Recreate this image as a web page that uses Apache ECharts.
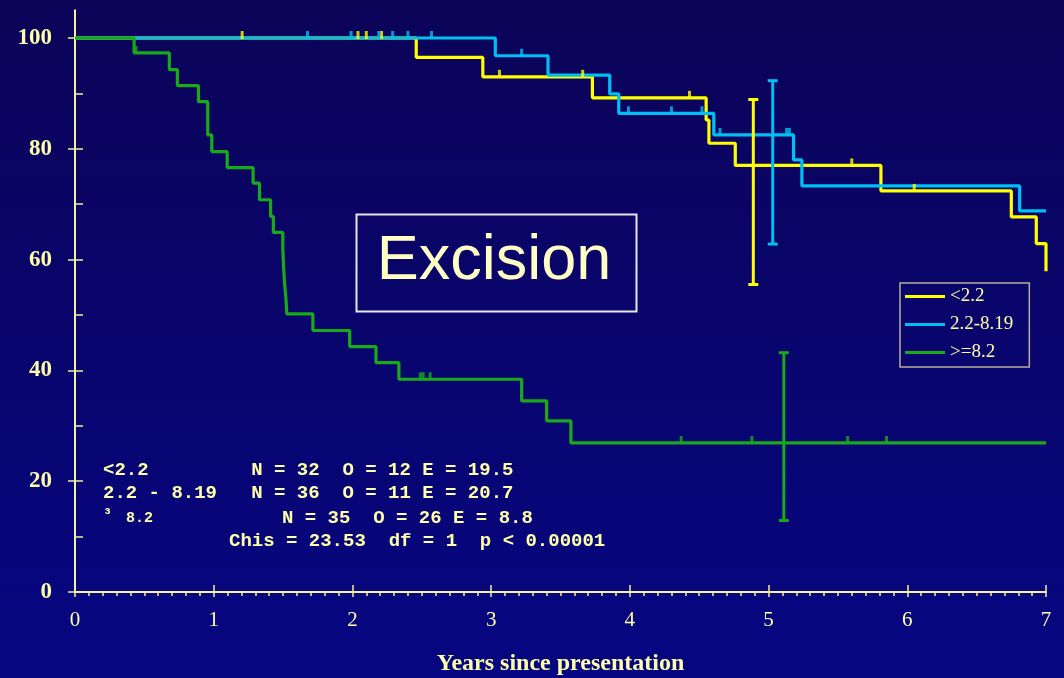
<!DOCTYPE html>
<html>
<head>
<meta charset="utf-8">
<style>html,body{margin:0;padding:0;background:#0a0560;}#chart{width:1064px;height:678px;}</style>
<script src="https://cdn.jsdelivr.net/npm/echarts@6/dist/echarts.min.js"></script>
</head>
<body>
<div id="chart"></div>
<script>
// ---- data ----
const seriesNames = ['<2.2', '2.2-8.19', '>=8.2'];
const yellowT = [0, 2.46, 2.94, 3.73, 4.55, 4.57, 4.76, 5.81, 6.75, 6.93, 7.0];
const yellowS = [100, 96.5, 93.0, 89.2, 85.2, 81.0, 77.0, 72.4, 67.7, 62.9, 57.9];
const blueT = [0, 3.03, 3.41, 3.855, 3.92, 4.605, 5.18, 5.24, 6.81, 7.0];
const blueS = [100, 96.8, 93.3, 89.9, 86.4, 82.5, 78.0, 73.3, 68.8, 68.8];
const greenT = [0, 0.426, 0.68, 0.738, 0.89, 0.957, 0.986, 1.097, 1.284, 1.33, 1.41, 1.43, 1.498, 1.503, 1.51, 1.52, 1.527, 1.715, 1.98, 2.17, 2.335, 3.22, 3.40, 3.575, 7.0];
const greenS = [100, 97.3, 94.3, 91.4, 88.5, 82.5, 79.5, 76.6, 73.8, 70.8, 67.8, 64.9, 62.0, 59.0, 56.0, 53.2, 50.2, 47.2, 44.3, 41.4, 38.4, 34.5, 30.9, 26.9, 26.9];

const yellowCensorT = [1.205, 2.04, 2.10, 2.21, 3.06, 3.66, 4.43, 5.60, 6.05];
const yellowCensorS = [100, 100, 100, 100, 93.0, 93.0, 89.2, 77.0, 72.4];
const blueCensorT = [1.676, 1.99, 2.19, 2.29, 2.40, 2.57, 3.22, 3.99, 4.30, 4.52, 4.65, 5.13, 5.15];
const blueCensorS = [100, 100, 100, 100, 100, 100, 96.8, 86.4, 86.4, 86.4, 82.5, 82.5, 82.5];
const greenCensorT = [0.44, 2.49, 2.51, 2.56, 4.37, 4.88, 5.57, 5.85];
const greenCensorS = [97.3, 38.4, 38.4, 38.4, 26.9, 26.9, 26.9, 26.9];

// [time, low, high]
const yellowErr = [4.89, 55.5, 88.9];
const blueErr = [5.03, 62.8, 92.3];
const greenErr = [5.11, 12.9, 43.2];

const yMajorTicks = [0, 20, 40, 60, 80, 100];
const yAllTicks = [10, 20, 30, 40, 50, 60, 70, 80, 90, 100];

const statLines = [
  '<2.2         N = 32  O = 12 E = 19.5',
  '2.2 - 8.19   N = 36  O = 11 E = 20.7',
  'N = 35  O = 26 E = 8.8',
  'Chis = 23.53  df = 1  p < 0.00001'
];

// ---- styling ----
const COLORS = ['#ffff00', '#00bff2', '#19a919'];
const AXIS = '#f4f0a0';
const TXT = '#ffffa8';

function zip(a, b) { return a.map((v, i) => [v, b[i]]); }

function lineSeries(name, t, s, color) {
  return {
    name: name, type: 'line', step: 'end', data: zip(t, s),
    showSymbol: false, symbol: 'none', color: color,
    lineStyle: { color: color, width: 3.2 }, z: 3
  };
}
function censorSeries(t, s, color) {
  return {
    type: 'scatter', data: zip(t, s), symbol: 'rect', symbolSize: [3, 8],
    symbolOffset: [0, -3], itemStyle: { color: color }, z: 4, silent: true
  };
}
function errSeries(e, color) {
  return {
    type: 'custom', data: [e], z: 5, silent: true,
    renderItem: function (params, api) {
      const top = api.coord([api.value(0), api.value(2)]);
      const bot = api.coord([api.value(0), api.value(1)]);
      const st = { stroke: color, lineWidth: 3 };
      return {
        type: 'group', children: [
          { type: 'line', shape: { x1: top[0], y1: top[1], x2: bot[0], y2: bot[1] }, style: st },
          { type: 'line', shape: { x1: top[0] - 5, y1: top[1], x2: top[0] + 5, y2: top[1] }, style: st },
          { type: 'line', shape: { x1: bot[0] - 5, y1: bot[1], x2: bot[0] + 5, y2: bot[1] }, style: st }
        ]
      };
    }
  };
}

const chart = echarts.init(document.getElementById('chart'));
const monoFont = '"Liberation Mono", "DejaVu Sans Mono", monospace';

chart.setOption({
  animation: false,
  backgroundColor: {
    type: 'linear', x: 0, y: 0, x2: 0, y2: 1,
    colorStops: [{ offset: 0, color: '#0b0458' }, { offset: 1, color: '#060682' }]
  },
  grid: { left: 75, right: 18, top: 10.3, bottom: 86, containLabel: false, outerBoundsMode: 'none' },
  legend: {
    data: seriesNames, orient: 'vertical', left: 900, top: 283,
    icon: 'rect', itemWidth: 40, itemHeight: 3, itemGap: 9,
    padding: [4, 16, 5, 5], borderColor: '#b8b098', borderWidth: 1.5,
    textStyle: { color: TXT, fontFamily: '"Liberation Serif", serif', fontSize: 19 }
  },
  xAxis: [
    {
      type: 'value', min: 0, max: 7, interval: 1, position: 'bottom',
      axisLine: { show: true, onZero: false, lineStyle: { color: AXIS, width: 2 } },
      axisTick: { show: true, inside: false, length: 5, lineStyle: { color: AXIS, width: 1.5 } },
      minorTick: { show: true, splitNumber: 10, length: 4, lineStyle: { color: AXIS, width: 1.5 } },
      splitLine: { show: false },
      axisLabel: { color: TXT, fontFamily: '"Liberation Serif", serif', fontSize: 21, margin: 18 },
      name: 'Years since presentation', nameLocation: 'middle', nameGap: 60,
      nameTextStyle: { color: TXT, fontFamily: '"Liberation Serif", serif', fontSize: 24, fontWeight: 'bold' }
    },
    {
      type: 'value', min: 0, max: 7, interval: 1, position: 'bottom',
      axisLine: { show: false },
      axisTick: { show: true, inside: true, length: 7, lineStyle: { color: AXIS, width: 1.5 } },
      minorTick: { show: false }, splitLine: { show: false },
      axisLabel: { show: false }
    }
  ],
  yAxis: [
    {
      type: 'value', min: 0, max: 105, interval: 20, position: 'left',
      axisLine: { show: true, onZero: false, lineStyle: { color: AXIS, width: 2 } },
      axisTick: { show: true, inside: false, length: 7, customValues: yMajorTicks, lineStyle: { color: AXIS, width: 1.5 } },
      splitLine: { show: false },
      axisLabel: {
        customValues: yMajorTicks, color: TXT, margin: 23,
        fontFamily: '"Liberation Serif", serif', fontSize: 23, fontWeight: 'bold'
      }
    },
    {
      type: 'value', min: 0, max: 105, interval: 20, position: 'left',
      axisLine: { show: false },
      axisTick: { show: true, inside: true, length: 8, customValues: yAllTicks, lineStyle: { color: AXIS, width: 1.5 } },
      splitLine: { show: false }, axisLabel: { show: false }
    }
  ],
  series: [
    lineSeries(seriesNames[0], yellowT, yellowS, COLORS[0]),
    lineSeries(seriesNames[1], blueT, blueS, COLORS[1]),
    lineSeries(seriesNames[2], greenT, greenS, COLORS[2]),
    censorSeries(yellowCensorT, yellowCensorS, COLORS[0]),
    censorSeries(blueCensorT, blueCensorS, COLORS[1]),
    censorSeries(greenCensorT, greenCensorS, COLORS[2]),
    errSeries(yellowErr, COLORS[0]),
    errSeries(blueErr, COLORS[1]),
    errSeries(greenErr, COLORS[2])
  ],
  graphic: [
    { type: 'rect', left: 354, top: 212, shape: { width: 280, height: 97 },
      style: { fill: 'none', stroke: '#e6e6ee', lineWidth: 2 }, z: 10 },
    { type: 'text', x: 494, y: 262, z: 11,
      style: { text: 'Excision', fill: '#ffffc4', font: '63px "Liberation Sans", Arial, sans-serif',
               textAlign: 'center', textVerticalAlign: 'middle' } },
    { type: 'text', x: 103, y: 470, z: 11,
      style: { text: statLines[0], fill: TXT, font: 'bold 19px ' + monoFont, textVerticalAlign: 'middle' } },
    { type: 'text', x: 103, y: 493, z: 11,
      style: { text: statLines[1], fill: TXT, font: 'bold 19px ' + monoFont, textVerticalAlign: 'middle' } },
    { type: 'text', x: 103, y: 514, z: 11,
      style: { text: '³', fill: TXT, font: 'bold 15px ' + monoFont, textVerticalAlign: 'middle' } },
    { type: 'text', x: 126, y: 518, z: 11,
      style: { text: '8.2', fill: TXT, font: 'bold 15px ' + monoFont, textVerticalAlign: 'middle' } },
    { type: 'text', x: 282, y: 518, z: 11,
      style: { text: statLines[2], fill: TXT, font: 'bold 19px ' + monoFont, textVerticalAlign: 'middle' } },
    { type: 'text', x: 229, y: 541, z: 11,
      style: { text: statLines[3], fill: TXT, font: 'bold 19px ' + monoFont, textVerticalAlign: 'middle' } }
  ]
});
</script>
</body>
</html>
